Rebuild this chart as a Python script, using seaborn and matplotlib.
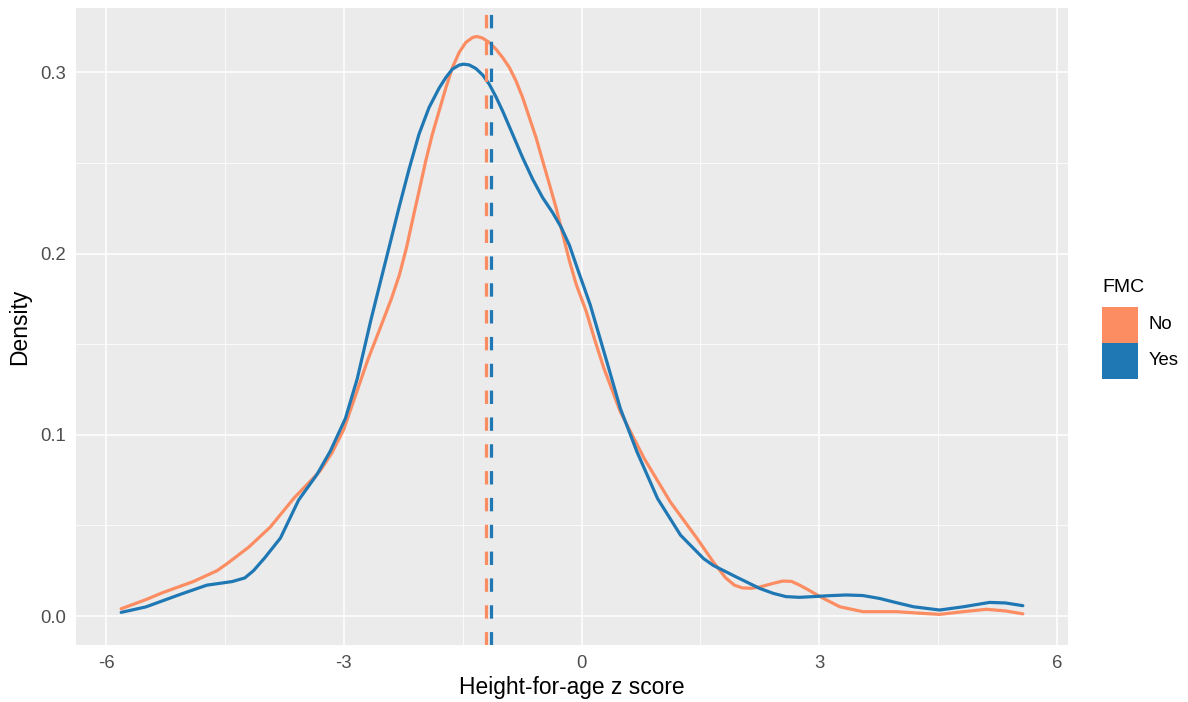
import matplotlib
matplotlib.use("Agg")
import matplotlib.pyplot as plt
import pandas as pd
import seaborn as sns
from matplotlib.patches import Rectangle
from matplotlib.ticker import FixedLocator

# density curves (Height-for-age z score vs density)
no_z = [-5.81, -5.5, -5.28, -4.90, -4.6, -4.47, -4.2, -3.93, -3.63, -3.30, -3.15,
        -3.0, -2.85, -2.70, -2.54, -2.40, -2.30, -2.21, -2.13, -2.05, -1.966, -1.882, -1.797,
        -1.713, -1.629, -1.544, -1.460, -1.376, -1.320, -1.249, -1.165, -1.080, -0.996,
        -0.911, -0.827, -0.743, -0.658, -0.574, -0.490, -0.405, -0.321, -0.237, -0.152,
        -0.067, 0.06, 0.17, 0.28, 0.49, 0.79, 1.12, 1.46, 1.66, 1.82, 1.93, 2.03, 2.14,
        2.25, 2.40, 2.54, 2.65, 2.75, 2.88, 3.01, 3.26, 3.55, 3.97, 4.25, 4.52, 4.82,
        5.11, 5.35, 5.57]
no_density = [0.004, 0.009, 0.013, 0.019, 0.025, 0.029, 0.038, 0.049, 0.065, 0.080, 0.090,
              0.103, 0.122, 0.141, 0.159, 0.175, 0.188, 0.203, 0.219, 0.2345, 0.2511, 0.2659, 0.2787,
              0.2913, 0.3027, 0.3110, 0.3165, 0.3192, 0.3198, 0.3189, 0.3165, 0.3128, 0.3082,
              0.3027, 0.2953, 0.2861, 0.2750, 0.2640, 0.2511, 0.2382, 0.2253, 0.2106, 0.1959,
              0.1830, 0.168, 0.152, 0.137, 0.1127, 0.087, 0.063, 0.0427, 0.030, 0.021, 0.017, 0.0155, 0.0153,
              0.016, 0.0178, 0.0193, 0.0191, 0.0171, 0.014, 0.0107, 0.0051, 0.0024, 0.0024, 0.0016, 0.0009, 0.0024,
              0.0037, 0.0028, 0.0012]

yes_z = [-5.81, -5.5, -5.06, -4.73, -4.41, -4.25, -4.14, -4.0, -3.80, -3.57, -3.34, -3.17, -2.98,
         -2.83, -2.66, -2.557, -2.430, -2.304, -2.177, -2.051, -1.924, -1.797, -1.713, -1.629,
         -1.544, -1.489, -1.418, -1.333, -1.249, -1.165, -1.080, -0.996, -0.870, -0.743, -0.616,
         -0.490, -0.363, -0.257, -0.152, -0.05, 0.11, 0.32, 0.49, 0.70, 0.96, 1.25,
         1.54, 1.66, 1.95, 2.25, 2.42, 2.58, 2.75, 2.92, 3.12, 3.34, 3.55, 3.76, 3.98, 4.19, 4.52,
         4.82, 5.15, 5.35, 5.57]
yes_density = [0.002, 0.005, 0.012, 0.017, 0.019, 0.021, 0.025, 0.032, 0.043, 0.064, 0.078, 0.091, 0.109,
               0.131, 0.163, 0.1811, 0.2032, 0.2253, 0.2465, 0.2659, 0.2806, 0.2913, 0.2971, 0.3018,
               0.3040, 0.3045, 0.3041, 0.3021, 0.2986, 0.2935, 0.2865, 0.2787, 0.2659, 0.2529, 0.2410,
               0.2308, 0.2225, 0.2145, 0.2045, 0.1915, 0.1717, 0.1403, 0.1145, 0.0906, 0.0648, 0.0446,
               0.0317, 0.028, 0.0216, 0.0152, 0.0125, 0.0107, 0.0103, 0.0107, 0.0112, 0.0116, 0.0113, 0.0097, 0.0073, 0.0051, 0.0033,
               0.0051, 0.0075, 0.0072, 0.0057]

groups = ["No", "Yes"]
group_means = [-1.21, -1.14]
colors = ["#FC8D62", "#1F78B4"]

x_ticks = [-6, -3, 0, 3, 6]
x_tick_labels = ["-6", "-3", "0", "3", "6"]
y_ticks = [0.0, 0.1, 0.2, 0.3]
y_tick_labels = ["0.0", "0.1", "0.2", "0.3"]

W, H = 1188, 702


def main() -> None:
    sns.set_theme(style="darkgrid", rc={
        "axes.facecolor": "#EBEBEB",
        "grid.color": "white",
        "axes.unicode_minus": False,
    })
    plt.rcParams["font.family"] = ["Liberation Sans", "DejaVu Sans"]

    df = pd.concat([
        pd.DataFrame({"z": no_z, "density": no_density, "FMC": "No"}),
        pd.DataFrame({"z": yes_z, "density": yes_density, "FMC": "Yes"}),
    ], ignore_index=True)

    fig = plt.figure(figsize=(W / 100, H / 100), dpi=100)
    ax = fig.add_axes([76 / W, 1 - 645 / H, (1068 - 76) / W, (645 - 8) / H])

    palette = dict(zip(groups, colors))
    sns.lineplot(data=df, x="z", y="density", hue="FMC", hue_order=groups,
                 palette=palette, linewidth=2.3, legend=False, sort=False,
                 estimator=None, ax=ax)
    for line in ax.lines:
        line.set_solid_joinstyle("round")

    for mean, color in zip(group_means, colors):
        ax.axvline(mean, color=color, linewidth=2.3, linestyle=(0, (4.2, 4.2)))

    ax.set_xlim(-6.38, 6.14)
    ax.set_ylim(-0.016, 0.3355)
    ax.set_xticks(x_ticks)
    ax.set_xticklabels(x_tick_labels)
    ax.set_yticks(y_ticks)
    ax.set_yticklabels(y_tick_labels)
    ax.xaxis.set_minor_locator(FixedLocator([-4.5, -1.5, 1.5, 4.5]))
    ax.yaxis.set_minor_locator(FixedLocator([0.05, 0.15, 0.25]))
    ax.grid(which="major", color="white", linewidth=1.1)
    ax.grid(which="minor", color="white", linewidth=0.55)
    ax.tick_params(which="major", length=4, width=1, color="#333333",
                   labelcolor="#4D4D4D", labelsize=13.3, pad=3)
    ax.tick_params(which="minor", length=0)
    for spine in ax.spines.values():
        spine.set_visible(False)

    ax.set_xlabel("Height-for-age z score", fontsize=16.4, color="black", labelpad=3)
    ax.set_ylabel("Density", fontsize=16.4, color="black", labelpad=7)

    # legend drawn as filled keys, like the reference
    fig.text(1102 / W, 1 - 292 / H, "FMC", fontsize=14, color="black",
             ha="left", va="baseline")
    key_top = 306.7
    for g, c in zip(groups, colors):
        fig.add_artist(Rectangle((1102 / W, 1 - (key_top + 36) / H), 36 / W, 36 / H,
                                 facecolor=c, edgecolor="none", transform=fig.transFigure))
        fig.text(1149 / W, 1 - (key_top + 18) / H, g, fontsize=13.3, color="black",
                 ha="left", va="center")
        key_top += 36

    fig.savefig("out.png", dpi=100)
    plt.close(fig)


if __name__ == "__main__":
    main()
